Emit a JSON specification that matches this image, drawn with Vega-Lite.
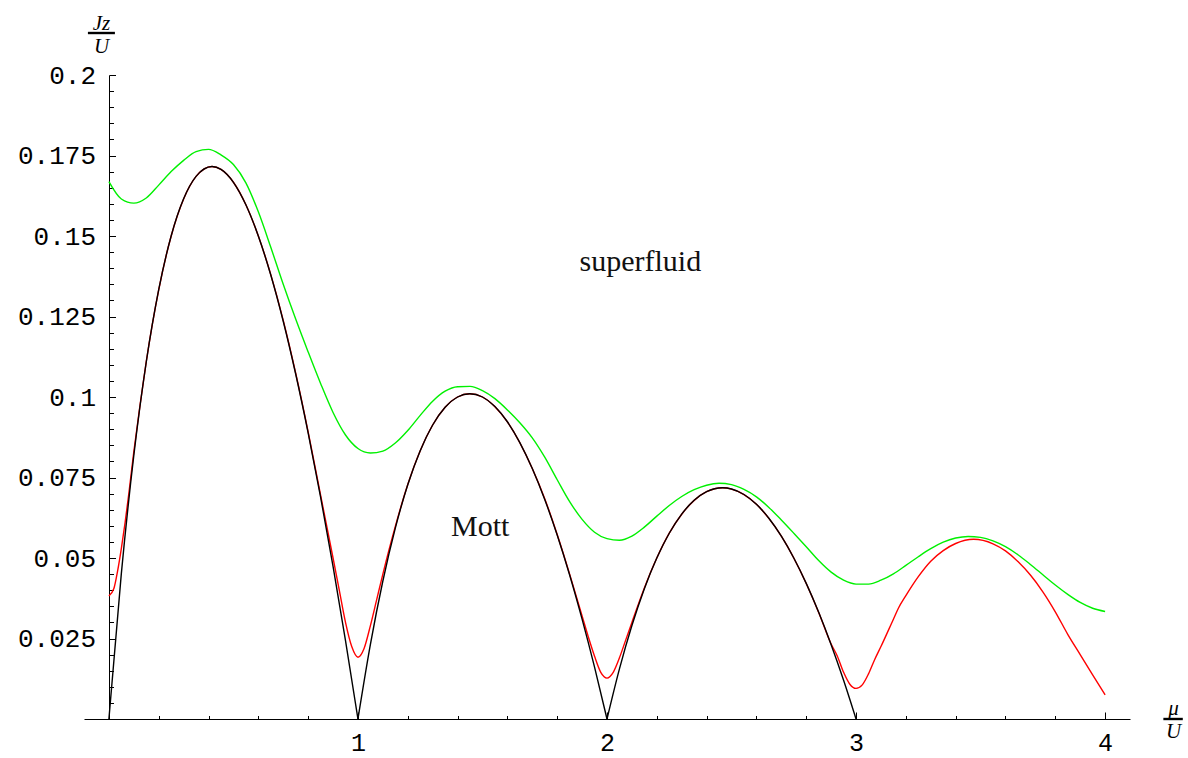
{
  "$schema": "https://vega.github.io/schema/vega-lite/v6.json",
  "width": 1046,
  "height": 644,
  "autosize": "none",
  "padding": {"left": 84, "top": 75, "right": 58, "bottom": 39},
  "background": "white",
  "config": {
    "view": {"stroke": null},
    "axis": {"grid": false, "domainColor": "black", "tickColor": "black", "labelColor": "black", "titleColor": "black", "domainWidth": 1, "tickWidth": 1}
  },
  "datasets": {
    "green": [
      {"mu": 0, "J": 0.1669}, {"mu": 0.05, "J": 0.1615}, {"mu": 0.1, "J": 0.1602}, {"mu": 0.15, "J": 0.1618},
      {"mu": 0.2, "J": 0.1658}, {"mu": 0.25, "J": 0.1700}, {"mu": 0.3, "J": 0.1735}, {"mu": 0.35, "J": 0.1762},
      {"mu": 0.4, "J": 0.1769}, {"mu": 0.45, "J": 0.1752}, {"mu": 0.5, "J": 0.1722}, {"mu": 0.55, "J": 0.1665},
      {"mu": 0.6, "J": 0.1575}, {"mu": 0.65, "J": 0.1465}, {"mu": 0.7, "J": 0.1350}, {"mu": 0.75, "J": 0.1242},
      {"mu": 0.8, "J": 0.1140}, {"mu": 0.85, "J": 0.1042}, {"mu": 0.9, "J": 0.0952}, {"mu": 0.95, "J": 0.0882},
      {"mu": 1.0, "J": 0.0840}, {"mu": 1.05, "J": 0.0826}, {"mu": 1.1, "J": 0.0832}, {"mu": 1.15, "J": 0.0857},
      {"mu": 1.2, "J": 0.0896}, {"mu": 1.25, "J": 0.0943}, {"mu": 1.3, "J": 0.0987}, {"mu": 1.35, "J": 0.1018},
      {"mu": 1.4, "J": 0.1032}, {"mu": 1.45, "J": 0.1033}, {"mu": 1.5, "J": 0.1020}, {"mu": 1.55, "J": 0.0995},
      {"mu": 1.6, "J": 0.0960}, {"mu": 1.65, "J": 0.0920}, {"mu": 1.7, "J": 0.0873}, {"mu": 1.75, "J": 0.0813},
      {"mu": 1.8, "J": 0.0743}, {"mu": 1.85, "J": 0.0675}, {"mu": 1.9, "J": 0.0620}, {"mu": 1.95, "J": 0.0580},
      {"mu": 2.0, "J": 0.0560}, {"mu": 2.05, "J": 0.0555}, {"mu": 2.1, "J": 0.0568}, {"mu": 2.15, "J": 0.0596},
      {"mu": 2.2, "J": 0.0630}, {"mu": 2.25, "J": 0.0663}, {"mu": 2.3, "J": 0.0691}, {"mu": 2.35, "J": 0.0712},
      {"mu": 2.4, "J": 0.0726}, {"mu": 2.45, "J": 0.0732}, {"mu": 2.5, "J": 0.0728}, {"mu": 2.55, "J": 0.0713},
      {"mu": 2.6, "J": 0.0690}, {"mu": 2.65, "J": 0.0657}, {"mu": 2.7, "J": 0.0618}, {"mu": 2.75, "J": 0.0577},
      {"mu": 2.8, "J": 0.0535}, {"mu": 2.85, "J": 0.0492}, {"mu": 2.9, "J": 0.0456}, {"mu": 2.95, "J": 0.0431},
      {"mu": 3.0, "J": 0.0419}, {"mu": 3.05, "J": 0.0419}, {"mu": 3.1, "J": 0.0431}, {"mu": 3.15, "J": 0.0451},
      {"mu": 3.2, "J": 0.0477}, {"mu": 3.25, "J": 0.0504}, {"mu": 3.3, "J": 0.0529}, {"mu": 3.35, "J": 0.0549},
      {"mu": 3.4, "J": 0.0562}, {"mu": 3.45, "J": 0.0567}, {"mu": 3.5, "J": 0.0564}, {"mu": 3.55, "J": 0.0553},
      {"mu": 3.6, "J": 0.0535}, {"mu": 3.65, "J": 0.0510}, {"mu": 3.7, "J": 0.0480}, {"mu": 3.75, "J": 0.0448},
      {"mu": 3.8, "J": 0.0416}, {"mu": 3.85, "J": 0.0387}, {"mu": 3.9, "J": 0.0362}, {"mu": 3.95, "J": 0.0344},
      {"mu": 4.0, "J": 0.0334}
    ],
    "red": [
      {"mu": 0, "J": 0.0382}, {"mu": 0.02, "J": 0.0405}, {"mu": 0.035, "J": 0.0460}, {"mu": 0.05, "J": 0.0530},
      {"mu": 0.065, "J": 0.0610}, {"mu": 0.08, "J": 0.0700}, {"mu": 0.1, "J": 0.0830}, {"mu": 0.125, "J": 0.0975},
      {"mu": 0.15, "J": 0.1110}, {"mu": 0.2, "J": 0.1333}, {"mu": 0.25, "J": 0.1500}, {"mu": 0.3, "J": 0.1615},
      {"mu": 0.35, "J": 0.1685}, {"mu": 0.414, "J": 0.1716}, {"mu": 0.45, "J": 0.1707}, {"mu": 0.5, "J": 0.1667},
      {"mu": 0.55, "J": 0.1597}, {"mu": 0.6, "J": 0.1500}, {"mu": 0.65, "J": 0.1380}, {"mu": 0.7, "J": 0.1238},
      {"mu": 0.75, "J": 0.1074}, {"mu": 0.8, "J": 0.0892}, {"mu": 0.85, "J": 0.0695}, {"mu": 0.9, "J": 0.0500},
      {"mu": 0.925, "J": 0.0400}, {"mu": 0.95, "J": 0.0300}, {"mu": 0.975, "J": 0.0225}, {"mu": 1.0, "J": 0.0192},
      {"mu": 1.025, "J": 0.0220}, {"mu": 1.05, "J": 0.0290}, {"mu": 1.075, "J": 0.0370}, {"mu": 1.1, "J": 0.0450},
      {"mu": 1.15, "J": 0.0598}, {"mu": 1.2, "J": 0.0728}, {"mu": 1.25, "J": 0.0833}, {"mu": 1.3, "J": 0.0913},
      {"mu": 1.35, "J": 0.0968}, {"mu": 1.4, "J": 0.1000}, {"mu": 1.449, "J": 0.1010}, {"mu": 1.5, "J": 0.1000},
      {"mu": 1.55, "J": 0.0970}, {"mu": 1.6, "J": 0.0923}, {"mu": 1.65, "J": 0.0858}, {"mu": 1.7, "J": 0.0778},
      {"mu": 1.75, "J": 0.0684}, {"mu": 1.8, "J": 0.0573}, {"mu": 1.85, "J": 0.0450}, {"mu": 1.9, "J": 0.0320},
      {"mu": 1.925, "J": 0.0255}, {"mu": 1.95, "J": 0.0195}, {"mu": 1.975, "J": 0.0145}, {"mu": 2.0, "J": 0.0127},
      {"mu": 2.025, "J": 0.0145}, {"mu": 2.05, "J": 0.0190}, {"mu": 2.075, "J": 0.0245}, {"mu": 2.1, "J": 0.0300},
      {"mu": 2.15, "J": 0.0407}, {"mu": 2.2, "J": 0.0500}, {"mu": 2.25, "J": 0.0577}, {"mu": 2.3, "J": 0.0636},
      {"mu": 2.35, "J": 0.0679}, {"mu": 2.4, "J": 0.0706}, {"mu": 2.464, "J": 0.0718}, {"mu": 2.5, "J": 0.0714},
      {"mu": 2.55, "J": 0.0697}, {"mu": 2.6, "J": 0.0667}, {"mu": 2.65, "J": 0.0623}, {"mu": 2.7, "J": 0.0568},
      {"mu": 2.75, "J": 0.0500}, {"mu": 2.8, "J": 0.0421}, {"mu": 2.85, "J": 0.0331}, {"mu": 2.9, "J": 0.0233},
      {"mu": 2.925, "J": 0.0195}, {"mu": 2.95, "J": 0.0145}, {"mu": 2.975, "J": 0.0108}, {"mu": 3.0, "J": 0.0095},
      {"mu": 3.025, "J": 0.0106}, {"mu": 3.05, "J": 0.0140}, {"mu": 3.075, "J": 0.0185}, {"mu": 3.1, "J": 0.0225},
      {"mu": 3.15, "J": 0.0310}, {"mu": 3.17, "J": 0.0344}, {"mu": 3.2, "J": 0.0383}, {"mu": 3.25, "J": 0.0442},
      {"mu": 3.3, "J": 0.0490}, {"mu": 3.35, "J": 0.0523}, {"mu": 3.4, "J": 0.0545}, {"mu": 3.472, "J": 0.0558},
      {"mu": 3.55, "J": 0.0544}, {"mu": 3.6, "J": 0.0522}, {"mu": 3.65, "J": 0.0489},
      {"mu": 3.7, "J": 0.0447}, {"mu": 3.75, "J": 0.0395}, {"mu": 3.8, "J": 0.0333}, {"mu": 3.85, "J": 0.0263},
      {"mu": 3.9, "J": 0.0200}, {"mu": 3.95, "J": 0.0137}, {"mu": 4.0, "J": 0.0075}
    ],
    "black": [
      {"lobe": 1, "mu": 0, "J": 0}, {"lobe": 1, "mu": 0.05, "J": 0.04524}, {"lobe": 1, "mu": 0.1, "J": 0.08182},
      {"lobe": 1, "mu": 0.15, "J": 0.11087}, {"lobe": 1, "mu": 0.2, "J": 0.13333}, {"lobe": 1, "mu": 0.25, "J": 0.15},
      {"lobe": 1, "mu": 0.3, "J": 0.16154}, {"lobe": 1, "mu": 0.35, "J": 0.16852}, {"lobe": 1, "mu": 0.414, "J": 0.17157},
      {"lobe": 1, "mu": 0.45, "J": 0.17069}, {"lobe": 1, "mu": 0.5, "J": 0.16667}, {"lobe": 1, "mu": 0.55, "J": 0.15968},
      {"lobe": 1, "mu": 0.6, "J": 0.15}, {"lobe": 1, "mu": 0.65, "J": 0.13788}, {"lobe": 1, "mu": 0.7, "J": 0.12353},
      {"lobe": 1, "mu": 0.75, "J": 0.10714}, {"lobe": 1, "mu": 0.8, "J": 0.08889}, {"lobe": 1, "mu": 0.85, "J": 0.06892},
      {"lobe": 1, "mu": 0.9, "J": 0.04737}, {"lobe": 1, "mu": 0.95, "J": 0.02436}, {"lobe": 1, "mu": 1.0, "J": 0},
      {"lobe": 2, "mu": 1.0, "J": 0}, {"lobe": 2, "mu": 1.05, "J": 0.02317}, {"lobe": 2, "mu": 1.1, "J": 0.04286},
      {"lobe": 2, "mu": 1.15, "J": 0.0593}, {"lobe": 2, "mu": 1.2, "J": 0.07273}, {"lobe": 2, "mu": 1.25, "J": 0.08333},
      {"lobe": 2, "mu": 1.3, "J": 0.0913}, {"lobe": 2, "mu": 1.35, "J": 0.09681}, {"lobe": 2, "mu": 1.4, "J": 0.1},
      {"lobe": 2, "mu": 1.449, "J": 0.10102}, {"lobe": 2, "mu": 1.5, "J": 0.1}, {"lobe": 2, "mu": 1.55, "J": 0.09706},
      {"lobe": 2, "mu": 1.6, "J": 0.09231}, {"lobe": 2, "mu": 1.65, "J": 0.08585}, {"lobe": 2, "mu": 1.7, "J": 0.07778},
      {"lobe": 2, "mu": 1.75, "J": 0.06818}, {"lobe": 2, "mu": 1.8, "J": 0.05714}, {"lobe": 2, "mu": 1.85, "J": 0.04474},
      {"lobe": 2, "mu": 1.9, "J": 0.03103}, {"lobe": 2, "mu": 1.95, "J": 0.0161}, {"lobe": 2, "mu": 2.0, "J": 0},
      {"lobe": 3, "mu": 2.0, "J": 0}, {"lobe": 3, "mu": 2.05, "J": 0.01557}, {"lobe": 3, "mu": 2.1, "J": 0.02903},
      {"lobe": 3, "mu": 2.15, "J": 0.04048}, {"lobe": 3, "mu": 2.2, "J": 0.05}, {"lobe": 3, "mu": 2.25, "J": 0.05769},
      {"lobe": 3, "mu": 2.3, "J": 0.06364}, {"lobe": 3, "mu": 2.35, "J": 0.06791}, {"lobe": 3, "mu": 2.4, "J": 0.07059},
      {"lobe": 3, "mu": 2.464, "J": 0.0718}, {"lobe": 3, "mu": 2.5, "J": 0.07143}, {"lobe": 3, "mu": 2.55, "J": 0.06972},
      {"lobe": 3, "mu": 2.6, "J": 0.06667}, {"lobe": 3, "mu": 2.65, "J": 0.06233}, {"lobe": 3, "mu": 2.7, "J": 0.05676},
      {"lobe": 3, "mu": 2.75, "J": 0.05}, {"lobe": 3, "mu": 2.8, "J": 0.04211}, {"lobe": 3, "mu": 2.85, "J": 0.03312},
      {"lobe": 3, "mu": 2.9, "J": 0.02308}, {"lobe": 3, "mu": 2.95, "J": 0.01203}, {"lobe": 3, "mu": 3.0, "J": 0}
    ],
    "labels": [
      {"text": "superfluid", "mu": 2.134, "J": 0.1391},
      {"text": "Mott", "mu": 1.491, "J": 0.0568}
    ]
  },
  "layer": [
    {
      "data": {"name": "green"},
      "mark": {"type": "line", "interpolate": "monotone", "color": "#00f000", "strokeWidth": 1.4},
      "encoding": {
        "x": {
          "field": "mu", "type": "quantitative",
          "scale": {"domain": [-0.1, 4.1], "nice": false, "zero": false},
          "axis": {
            "values": [0.2, 0.4, 0.6, 0.8, 1, 1.2, 1.4, 1.6, 1.8, 2, 2.2, 2.4, 2.6, 2.8, 3, 3.2, 3.4, 3.6, 3.8, 4],
            "tickCount": 200,
            "tickSize": {"condition": {"test": "datum.value == round(datum.value)", "value": -7}, "value": -3.5},
            "labelExpr": "datum.value == round(datum.value) ? format(datum.value, 'd') : ''",
            "labelFontSize": {"condition": {"test": "datum.value == round(datum.value)", "value": 25}, "value": 0},
            "labelFont": "Liberation Mono", "labelBaseline": "top", "labelPadding": 18,
            "labelFlush": false, "labelOverlap": false, "labelBound": false,
            "title": ["μ", "U"],
            "titleFont": "Liberation Serif", "titleFontStyle": "italic", "titleFontWeight": "normal", "titleFontSize": 21,
            "titleLineHeight": 23, "titleAngle": 0, "titleAlign": "center", "titleBaseline": "alphabetic",
            "titleX": 1089, "titleY": -5
          }
        },
        "y": {
          "field": "J", "type": "quantitative",
          "scale": {"domain": [0, 0.2], "nice": false},
          "axis": {
            "offset": -25,
            "values": [0.005, 0.01, 0.015, 0.02, 0.025, 0.03, 0.035, 0.04, 0.045, 0.05, 0.055, 0.06, 0.065, 0.07, 0.075, 0.08, 0.085, 0.09, 0.095, 0.1, 0.105, 0.11, 0.115, 0.12, 0.125, 0.13, 0.135, 0.14, 0.145, 0.15, 0.155, 0.16, 0.165, 0.17, 0.175, 0.18, 0.185, 0.19, 0.195, 0.2],
            "tickCount": 200,
            "tickSize": {"condition": {"test": "abs(datum.value * 40 - round(datum.value * 40)) < 0.000001", "value": -6.5}, "value": -4.5},
            "labelExpr": "abs(datum.value * 40 - round(datum.value * 40)) < 0.000001 ? format(datum.value, '~g') : ''",
            "labelFontSize": {"condition": {"test": "abs(datum.value * 40 - round(datum.value * 40)) < 0.000001", "value": 26}, "value": 0},
            "labelFont": "Liberation Mono", "labelPadding": 20,
            "labelFlush": false, "labelOverlap": false, "labelBound": false,
            "title": ["Jz", "U"],
            "titleFont": "Liberation Serif", "titleFontStyle": "italic", "titleFontWeight": "normal", "titleFontSize": 21,
            "titleLineHeight": 23, "titleAngle": 0, "titleAlign": "center", "titleBaseline": "alphabetic",
            "titleX": -8, "titleY": -45.5
          }
        }
      }
    },
    {
      "data": {"name": "red"},
      "mark": {"type": "line", "interpolate": "monotone", "color": "#ff0000", "strokeWidth": 1.4},
      "encoding": {
        "x": {"field": "mu", "type": "quantitative"},
        "y": {"field": "J", "type": "quantitative"}
      }
    },
    {
      "data": {"name": "black"},
      "mark": {"type": "line", "interpolate": "monotone", "color": "#000000", "strokeWidth": 1.4},
      "encoding": {
        "x": {"field": "mu", "type": "quantitative"},
        "y": {"field": "J", "type": "quantitative"},
        "detail": {"field": "lobe", "type": "nominal"}
      }
    },
    {
      "data": {"name": "labels"},
      "mark": {"type": "text", "font": "Liberation Serif", "fontSize": 30, "align": "center", "baseline": "alphabetic", "color": "#111111"},
      "encoding": {
        "x": {"field": "mu", "type": "quantitative"},
        "y": {"field": "J", "type": "quantitative"},
        "text": {"field": "text"}
      }
    },
    {
      "description": "fraction bar of the vertical axis title Jz/U",
      "data": {"values": [{}]},
      "mark": {"type": "rule", "color": "black", "strokeWidth": 2.4, "clip": false},
      "encoding": {
        "x": {"datum": -0.0843, "type": "quantitative"},
        "x2": {"datum": 0.0241},
        "y": {"datum": 0.21304, "type": "quantitative"}
      }
    },
    {
      "description": "fraction bar of the horizontal axis title mu/U",
      "data": {"values": [{}]},
      "mark": {"type": "rule", "color": "black", "strokeWidth": 2.4, "clip": false},
      "encoding": {
        "x": {"datum": 4.234, "type": "quantitative"},
        "x2": {"datum": 4.312},
        "y": {"datum": 0, "type": "quantitative"}
      }
    }
  ]
}
